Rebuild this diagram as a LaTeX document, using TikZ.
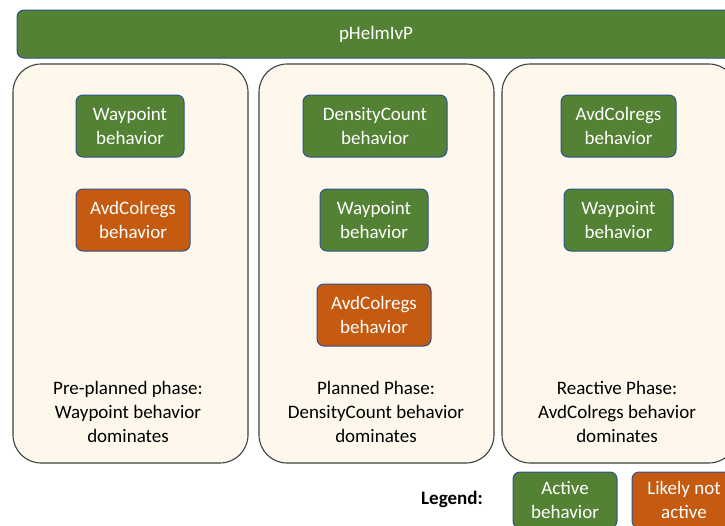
\documentclass[tikz,border=0pt]{standalone}
\usepackage{fontspec}
\setmainfont{Carlito}
\usepackage{tikz}
\usetikzlibrary{positioning}
\definecolor{helmgreen}{HTML}{548235}
\definecolor{avdorange}{HTML}{C55A11}
\definecolor{boxedge}{HTML}{2F528F}
\definecolor{phasefill}{HTML}{FEF8EC}
\tikzstyle{helm} = [rectangle, rounded corners=7pt, minimum width=718pt, minimum height=48pt, draw=boxedge, fill=helmgreen, text=white, line width=1pt]
\tikzstyle{phase} = [rectangle, rounded corners=28pt, minimum width=235pt, minimum height=399pt, draw=black!75, fill=phasefill, line width=1.1pt]
\tikzstyle{active} = [rectangle, rounded corners=7pt, minimum height=62pt, inner sep=0pt, align=center, draw=boxedge, fill=helmgreen, text=white, line width=1pt]
\tikzstyle{inactive} = [active, fill=avdorange]
\tikzstyle{caption} = [align=center, text=black]

\begin{document}
\begin{tikzpicture}[x=1pt, y=-1pt, font=\fontsize{19}{24}\selectfont]
\useasboundingbox (0,0) rectangle (725,525);
\clip (0,0) rectangle (725,525);
% helm bar
\node (helm) at (376,34) [helm] {pHelmIvP};
% phases
\node (p1) at (130.5,263.5) [phase] {};
\node (p2) at (376.5,263.5) [phase] {};
\node (p3) at (619.5,263.5) [phase] {};
% pre-planned phase
\node (p1way) at (130,126) [active, minimum width=108pt] {Waypoint\\behavior};
\node (p1avd) at (133,220) [inactive, minimum width=114pt] {AvdColregs\\behavior};
\node (p1cap) at (128,412) [caption] {Pre-planned phase:\\Waypoint behavior\\dominates};
% planned phase
\node (p2den) at (375,126) [active, minimum width=144pt] {DensityCount\\behavior};
\node (p2way) at (374,220) [active, minimum width=108pt] {Waypoint\\behavior};
\node (p2avd) at (374,315) [inactive, minimum width=114pt] {AvdColregs\\behavior};
\node (p2cap) at (376,412) [caption] {Planned Phase:\\DensityCount behavior\\dominates};
% reactive phase
\node (p3avd) at (618.5,126) [active, minimum width=115pt] {AvdColregs\\behavior};
\node (p3way) at (618.5,220) [active, minimum width=109pt] {Waypoint\\behavior};
\node (p3cap) at (617,412) [caption] {Reactive Phase:\\AvdColregs behavior\\dominates};
% legend
\node (leg) at (452,499) [caption] {\bfseries Legend:};
\node (legact) at (565,500) [active, minimum width=104pt, minimum height=56pt] {Active\\behavior};
\node (leginact) at (684,500) [inactive, minimum width=104pt, minimum height=56pt] {Likely not\\active};
\end{tikzpicture}
\end{document}
